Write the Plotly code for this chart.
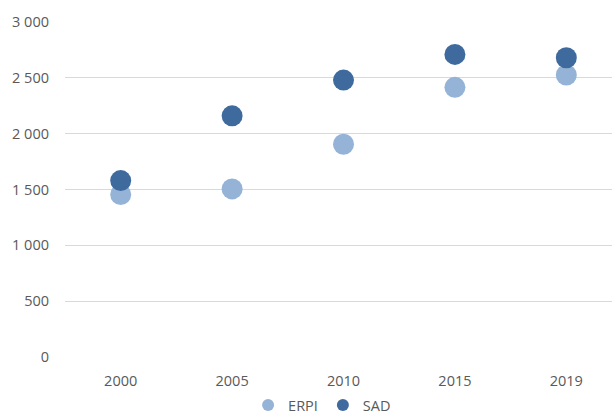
import plotly.graph_objects as go

years = ["2000", "2005", "2010", "2015", "2019"]
erpi = [1455, 1505, 1905, 2415, 2525]
sad = [1580, 2160, 2480, 2710, 2680]

y_ticks = [0, 500, 1000, 1500, 2000, 2500, 3000]

fig = go.Figure()
fig.add_trace(go.Scatter(
    x=years, y=erpi, name="ERPI", mode="markers",
    marker=dict(size=21, color="#95B3D7"),
))
fig.add_trace(go.Scatter(
    x=years, y=sad, name="SAD", mode="markers",
    marker=dict(size=21, color="#3F6A9E"),
))

fig.update_layout(
    width=612, height=415,
    margin=dict(l=65, r=0, t=22, b=58, autoexpand=False),
    paper_bgcolor="white", plot_bgcolor="white",
    separators=", ",
    font=dict(family="Open Sans, Liberation Sans, sans-serif", size=14.5, color="#595959"),
    showlegend=True,
    legend=dict(
        orientation="h", x=0.47, xanchor="center",
        yref="container", y=0.024, yanchor="middle",
        font=dict(size=14.5, color="#595959"), itemsizing="constant",
        itemwidth=30, traceorder="normal",
    ),
    xaxis=dict(
        type="category", range=[-0.5, 4.41],
        showgrid=False, zeroline=False, showline=False,
        ticks="", ticklabelstandoff=13,
    ),
    yaxis=dict(
        range=[0, 3000], tickvals=y_ticks, tickformat=",d",
        showgrid=True, gridcolor="#D9D9D9", gridwidth=1.3,
        zeroline=False, showline=False, ticks="", ticklabelstandoff=15,
    ),
)

fig.write_html("out.html")
